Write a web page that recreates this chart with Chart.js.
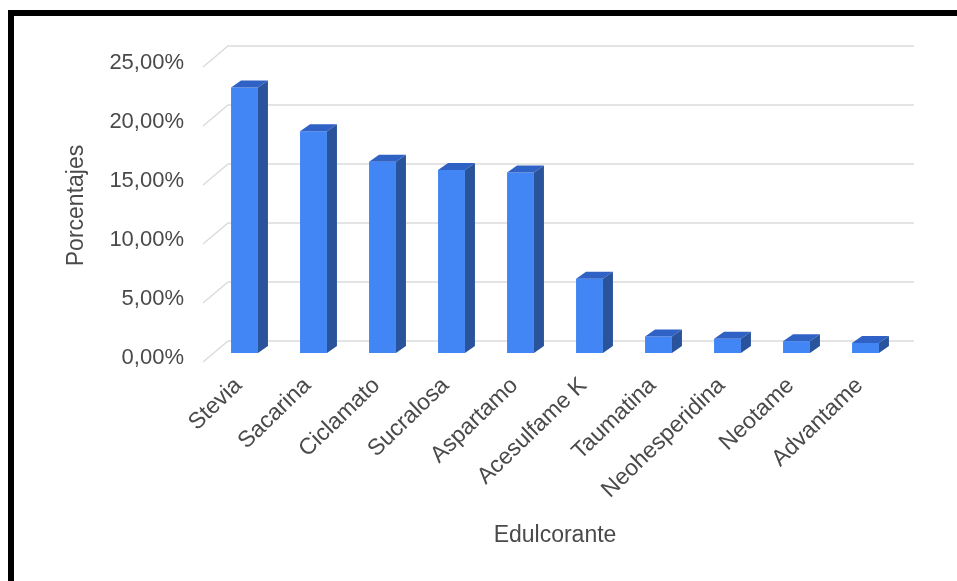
<!DOCTYPE html>
<html>
<head>
<meta charset="utf-8">
<script src="https://cdn.jsdelivr.net/npm/chart.js@4.4.0/dist/chart.umd.min.js"></script>
<style>
    body { margin: 0; background: #fff; }
    #wrap { position: relative; width: 957px; height: 581px; }
    #frame {
        position: absolute; left: 8px; top: 10px; right: 0; bottom: 0;
        border-top: 6px solid #000; border-left: 6px solid #000;
        pointer-events: none;
    }
</style>
</head>
<body>
<div id="wrap">
    <canvas id="chart"></canvas>
    <div id="frame"></div>
</div>
<script>
const categories = ['Stevia', 'Sacarina', 'Ciclamato', 'Sucralosa', 'Aspartamo',
    'Acesulfame K', 'Taumatina', 'Neohesperidina', 'Neotame', 'Advantame'];
const porcentajes = [22.5, 18.8, 16.2, 15.5, 15.3, 6.3, 1.4, 1.2, 1.0, 0.85];
const yTicks = [0, 5, 10, 15, 20, 25];

// fake 3d look: top + side faces on each bar, gridlines on a back plane
const depthPlugin = {
    id: 'depth',
    beforeDatasetsDraw(chart) {
        const ctx = chart.ctx;
        const y = chart.scales.y;
        const area = chart.chartArea;
        ctx.save();
        ctx.strokeStyle = '#dcdcdc';
        ctx.lineWidth = 1.5;
        yTicks.forEach(function (v) {
            const py = y.getPixelForValue(v);
            ctx.beginPath();
            ctx.moveTo(area.left - 7, py + 9);
            ctx.lineTo(area.left + 18, py - 12);
            ctx.lineTo(area.right + 14, py - 12);
            ctx.stroke();
        });
        ctx.restore();
    },
    afterDatasetsDraw(chart) {
        const ctx = chart.ctx;
        const dx = 10, dy = -7;
        ctx.save();
        chart.getDatasetMeta(0).data.forEach(function (bar) {
            const l = bar.x - bar.width / 2;
            const r = bar.x + bar.width / 2;
            const t = bar.y;
            const b = bar.base;
            ctx.fillStyle = '#3062c6';
            ctx.beginPath();
            ctx.moveTo(l, t);
            ctx.lineTo(r, t);
            ctx.lineTo(r + dx, t + dy);
            ctx.lineTo(l + dx, t + dy);
            ctx.closePath();
            ctx.fill();
            ctx.fillStyle = '#29549c';
            ctx.beginPath();
            ctx.moveTo(r, t);
            ctx.lineTo(r + dx, t + dy);
            ctx.lineTo(r + dx, b + dy);
            ctx.lineTo(r, b);
            ctx.closePath();
            ctx.fill();
        });
        ctx.restore();
    }
};

const ctx = document.getElementById('chart').getContext('2d');
new Chart(ctx, {
    type: 'bar',
    data: {
        labels: categories,
        datasets: [{
            label: 'Porcentajes',
            data: porcentajes,
            backgroundColor: '#4285f4',
            borderWidth: 0,
            categoryPercentage: 1,
            barPercentage: 0.39
        }]
    },
    options: {
        responsive: true,
        maintainAspectRatio: false,
        animation: false,
        layout: { padding: { top: 58, right: 57, left: 0, bottom: 0 } },
        plugins: { legend: { display: false }, tooltip: { enabled: false } },
        scales: {
            x: {
                grid: { display: false },
                border: { display: false },
                afterFit: function (scale) { scale.height = 228; },
                ticks: {
                    autoSkip: false,
                    minRotation: 44,
                    maxRotation: 44,
                    padding: 11,
                    labelOffset: -6,
                    color: '#4a4a4a',
                    font: { family: 'Liberation Sans', size: 23 }
                },
                title: {
                    display: true,
                    text: 'Edulcorante',
                    color: '#4a4a4a',
                    padding: { top: 0, bottom: 32 },
                    font: { family: 'Liberation Sans', size: 23 }
                }
            },
            y: {
                min: 0,
                max: 25,
                grid: { display: false },
                border: { display: false },
                afterFit: function (scale) { scale.width = 210; },
                afterBuildTicks: function (scale) {
                    scale.ticks = yTicks.map(function (v) { return { value: v }; });
                },
                ticks: {
                    padding: 18,
                    labelOffset: 5,
                    color: '#4a4a4a',
                    font: { family: 'Liberation Sans', size: 22 },
                    callback: function (v) { return v.toFixed(2).replace('.', ',') + '%'; }
                },
                title: {
                    display: true,
                    text: 'Porcentajes',
                    color: '#4a4a4a',
                    padding: { top: 63, bottom: 0 },
                    font: { family: 'Liberation Sans', size: 23 }
                }
            }
        }
    },
    plugins: [depthPlugin]
});
</script>
</body>
</html>
